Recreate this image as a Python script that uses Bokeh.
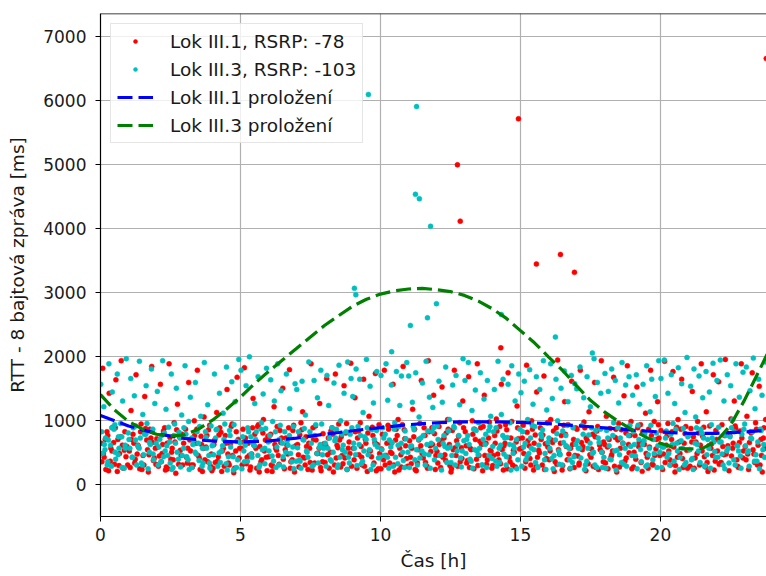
from bokeh.plotting import figure
from bokeh.models import Range1d, Span, Legend, LegendItem, FixedTicker
from bokeh.embed import file_html
from bokeh.resources import INLINE

# ---------------- data ----------------
# Lok III.1 (red) – main readings, 16 per hour
red_t_a = [
 0.02,0.08,0.13,0.19,0.26,0.31,0.37,0.44,0.50,0.55,0.62,0.68,0.74,0.81,0.87,0.94,
 1.03,1.09,1.16,1.22,1.27,1.34,1.40,1.45,1.52,1.58,1.65,1.71,1.76,1.83,1.89,1.96,
 2.01,2.07,2.14,2.20,2.25,2.32,2.38,2.45,2.51,2.56,2.63,2.69,2.75,2.82,2.88,2.93,
 3.04,3.10,3.15,3.22,3.28,3.35,3.41,3.46,3.53,3.59,3.64,3.70,3.77,3.83,3.90,3.96,
 4.02,4.08,4.15,4.21,4.26,4.33,4.39,4.46,4.52,4.57,4.64,4.70,4.76,4.83,4.88,4.95,
 5.03,5.09,5.14,5.21,5.27,5.34,5.40,5.45,5.51,5.58,5.64,5.69,5.76,5.82,5.89,5.95,
 6.01,6.08,6.13,6.20,6.26,6.31,6.38,6.44,6.51,6.57,6.62,6.69,6.75,6.80,6.87,6.93,
 7.04,7.09,7.16,7.22,7.29,7.34,7.41,7.47,7.52,7.59,7.65,7.70,7.77,7.83,7.88,7.95,
 8.02,8.08,8.14,8.21,8.27,8.32,8.39,8.45,8.51,8.58,8.63,8.70,8.76,8.81,8.88,8.94,
 9.03,9.09,9.16,9.22,9.28,9.33,9.40,9.46,9.53,9.59,9.64,9.71,9.77,9.82,9.89,9.95,
 10.02,10.07,10.14,10.20,10.27,10.33,10.38,10.45,10.51,10.56,10.63,10.69,10.74,10.81,10.87,10.93,
 11.04,11.10,11.15,11.22,11.28,11.35,11.41,11.46,11.53,11.59,11.66,11.71,11.77,11.84,11.90,11.96,
 12.02,12.09,12.15,12.20,12.27,12.33,12.40,12.46,12.52,12.57,12.64,12.70,12.76,12.83,12.89,12.94,
 13.03,13.08,13.15,13.21,13.28,13.34,13.39,13.46,13.52,13.58,13.65,13.71,13.77,13.82,13.89,13.95,
 14.01,14.08,14.14,14.19,14.26,14.32,14.39,14.45,14.51,14.56,14.63,14.69,14.75,14.82,14.88,14.93,
 15.04,15.10,15.16,15.22,15.27,15.34,15.40,15.47,15.53,15.58,15.65,15.71,15.78,15.84,15.89,15.96,
 16.03,16.08,16.15,16.21,16.28,16.33,16.40,16.46,16.51,16.58,16.64,16.70,16.77,16.83,16.90,16.95,
 17.02,17.09,17.14,17.21,17.27,17.34,17.39,17.45,17.52,17.58,17.65,17.70,17.76,17.83,17.89,17.96,
 18.01,18.07,18.13,18.20,18.26,18.33,18.39,18.44,18.51,18.57,18.64,18.70,18.77,18.82,18.88,18.95,
 19.04,19.09,19.16,19.22,19.29,19.35,19.40,19.47,19.53,19.58,19.65,19.71,19.78,19.84,19.90,19.95,
 20.02,20.08,20.15,20.21,20.27,20.34,20.40,20.45,20.52,20.58,20.63,20.70,20.76,20.81,20.88,20.94,
 21.03,21.09,21.14,21.21,21.27,21.33,21.40,21.46,21.51,21.57,21.64,21.70,21.76,21.83,21.89,21.96,
 22.01,22.08,22.14,22.20,22.27,22.32,22.39,22.45,22.52,22.58,22.64,22.69,22.76,22.82,22.89,22.95,
 23.03,23.09,23.15,23.22,23.28,23.34,23.40,23.47,23.53,23.59,23.64,23.70,23.76,
]
red_rtt_a = [
 640,1810,420,230,760,1420,560,890,310,1630,700,480,1930,250,820,590,
 520,1150,780,330,1710,610,240,940,450,1370,690,190,860,1840,370,560,
 710,280,1560,480,830,220,640,1880,390,560,960,170,1250,740,450,300,
 860,330,1590,520,270,990,640,1780,410,750,200,1050,580,350,920,470,
 250,690,1120,430,880,200,560,760,1480,330,630,940,180,520,1670,410,
 560,860,1820,320,640,220,470,1340,780,250,930,590,380,1010,690,210,
 430,780,200,1210,560,900,310,650,1500,240,720,470,1790,350,840,190,
 620,270,960,1130,410,740,230,560,1880,880,330,690,480,1260,210,790,
 340,1650,720,500,880,190,1720,610,940,270,450,1540,800,230,660,1890,
 560,1350,250,830,960,420,1640,700,200,1060,520,890,330,1730,620,930,
 240,780,1780,450,920,330,630,1560,190,860,1010,560,270,1840,710,400,
 680,320,1170,860,210,540,950,1620,410,760,280,1930,600,880,1390,230,
 510,900,260,1520,720,370,1010,620,190,840,1780,450,280,960,570,1300,
 820,330,1680,560,990,240,700,1880,450,880,210,1390,640,380,970,520,
 290,760,1020,470,900,1560,220,640,850,1740,350,980,530,270,1220,710,
 560,920,250,1860,680,400,990,220,770,1440,530,880,300,1690,630,960,
 380,1010,650,200,880,1940,470,760,290,1290,590,930,240,1610,700,450,
 860,300,1780,540,970,210,680,1130,420,780,1590,260,900,610,1930,350,
 620,1060,240,870,460,1670,730,190,950,560,320,1380,800,1850,490,980,
 270,760,1520,590,930,200,670,1110,420,860,1780,310,980,550,1290,720,
 840,230,1920,610,950,380,700,1760,190,890,1010,480,1640,260,790,530,
 540,870,1450,250,660,980,300,1880,750,430,1130,200,910,630,1710,360,
 700,1600,330,930,460,1950,800,210,1020,560,1300,870,280,650,1880,410,
 590,1060,230,820,1740,470,960,300,1530,700,190,880,1010,
]
# Lok III.1 – further readings in the dense lower band, 8 per hour
red_t_b = [
 0.05,0.17,0.29,0.41,0.53,0.66,0.78,0.91,
 1.06,1.19,1.31,1.43,1.55,1.68,1.80,1.92,
 2.04,2.17,2.29,2.41,2.54,2.66,2.79,2.91,
 3.07,3.19,3.31,3.44,3.56,3.68,3.80,3.93,
 4.05,4.18,4.30,4.42,4.55,4.67,4.79,4.92,
 5.06,5.18,5.31,5.43,5.55,5.67,5.80,5.92,
 6.04,6.16,6.29,6.41,6.53,6.66,6.78,6.90,
 7.07,7.19,7.31,7.44,7.56,7.68,7.81,7.93,
 8.05,8.17,8.30,8.42,8.54,8.66,8.79,8.91,
 9.06,9.18,9.31,9.43,9.55,9.68,9.80,9.92,
 10.04,10.17,10.29,10.41,10.54,10.66,10.78,10.90,
 11.07,11.19,11.32,11.44,11.56,11.68,11.80,11.93,
 12.05,12.18,12.30,12.42,12.54,12.67,12.79,12.91,
 13.06,13.18,13.30,13.43,13.55,13.67,13.79,13.92,
 14.04,14.16,14.29,14.41,14.53,14.66,14.78,14.90,
 15.07,15.19,15.31,15.43,15.56,15.68,15.80,15.93,
 16.06,16.18,16.30,16.43,16.55,16.67,16.79,16.92,
 17.05,17.18,17.30,17.42,17.54,17.67,17.79,17.92,
 18.04,18.17,18.29,18.41,18.54,18.66,18.78,18.91,
 19.06,19.19,19.31,19.43,19.56,19.68,19.80,19.93,
 20.05,20.17,20.30,20.42,20.54,20.67,20.79,20.91,
 21.06,21.18,21.31,21.43,21.55,21.67,21.80,21.92,
 22.04,22.17,22.29,22.41,22.54,22.67,22.79,22.91,
 23.06,23.18,23.31,23.43,23.56,23.68,
]
red_rtt_b = [
 350,700,210,520,880,290,610,430,
 260,640,470,820,300,540,720,410,
 580,350,880,240,500,660,310,780,
 420,690,300,860,230,560,760,280,
 620,360,810,280,470,900,250,700,
 300,720,450,880,560,190,800,420,
 680,280,530,840,390,610,250,920,
 460,850,300,640,220,910,560,350,
 600,250,780,410,690,320,950,480,
 380,720,590,280,800,430,650,240,
 550,300,860,480,690,220,930,600,
 420,740,330,600,880,250,510,790,
 330,680,460,860,240,570,750,400,
 600,260,780,390,670,900,310,530,
 450,830,320,600,240,720,500,880,
 720,350,600,860,280,490,770,400,
 520,830,310,640,920,380,560,260,
 440,650,880,320,550,740,230,500,
 330,700,520,860,270,640,410,760,
 500,880,340,620,250,760,450,930,
 610,340,520,820,290,660,400,900,
 280,740,480,610,890,340,560,220,
 520,340,760,600,440,910,260,720,
 380,650,540,860,300,720,
]
# Lok III.1 – more lower-band readings, 8 per hour
red_t_c = [
 0.10,0.23,0.35,0.47,0.60,0.72,0.85,0.97,
 1.11,1.24,1.36,1.48,1.61,1.73,1.86,1.98,
 2.10,2.22,2.35,2.48,2.60,2.72,2.85,2.97,
 3.12,3.24,3.36,3.49,3.61,3.73,3.86,3.98,
 4.10,4.23,4.35,4.48,4.60,4.72,4.85,4.97,
 5.11,5.24,5.36,5.48,5.61,5.73,5.85,5.98,
 6.10,6.23,6.35,6.47,6.60,6.72,6.85,6.97,
 7.12,7.24,7.36,7.49,7.61,7.73,7.86,7.98,
 8.11,8.23,8.36,8.48,8.60,8.73,8.85,8.97,
 9.10,9.23,9.35,9.48,9.60,9.73,9.85,9.97,
 10.11,10.23,10.36,10.48,10.60,10.73,10.85,10.97,
 11.12,11.24,11.37,11.49,11.61,11.74,11.86,11.98,
 12.10,12.23,12.35,12.48,12.60,12.72,12.85,12.97,
 13.11,13.24,13.36,13.48,13.61,13.73,13.86,13.98,
 14.10,14.23,14.35,14.47,14.60,14.72,14.85,14.97,
 15.12,15.24,15.37,15.49,15.61,15.74,15.86,15.98,
 16.11,16.24,16.36,16.49,16.61,16.73,16.86,16.98,
 17.10,17.23,17.35,17.48,17.60,17.73,17.85,17.97,
 18.11,18.24,18.36,18.48,18.61,18.73,18.86,18.98,
 19.12,19.24,19.37,19.49,19.61,19.74,19.86,19.98,
 20.11,20.24,20.36,20.48,20.61,20.73,20.85,20.97,
 21.12,21.24,21.36,21.49,21.61,21.73,21.86,21.98,
 22.10,22.23,22.35,22.48,22.60,22.73,22.85,22.97,
 23.12,23.24,23.37,23.49,23.61,23.73,
]
red_rtt_c = [
 480,820,360,650,200,740,530,300,
 700,390,580,230,870,460,650,310,
 440,620,270,730,380,850,530,640,
 560,300,760,450,620,380,850,210,
 340,770,520,640,300,450,820,560,
 660,420,270,610,900,350,520,750,
 300,620,450,720,540,880,380,600,
 770,420,590,340,700,480,260,630,
 460,830,300,570,740,410,560,280,
 820,460,300,640,520,760,210,480,
 380,640,500,300,760,460,850,280,
 560,230,690,480,340,820,620,450,
 620,420,800,290,540,680,350,880,
 370,540,860,290,620,450,720,250,
 640,380,540,930,420,300,660,550,
 480,810,300,640,420,700,230,580,
 690,350,540,220,780,470,620,880,
 330,590,720,460,280,830,540,660,
 580,430,280,690,850,360,620,240,
 390,650,820,480,580,300,700,450,
 470,760,300,580,420,860,640,250,
 660,410,800,520,270,600,450,840,
 310,590,470,760,640,380,830,520,
 470,800,340,610,450,560,
]
# Lok III.1 – outliers
red_t_out = [12.75, 12.85, 14.93, 15.57, 16.43, 16.93, 14.30, 23.78]
red_rtt_out = [4990, 4110, 5710, 3440, 3590, 3310, 2130, 6650]

# Lok III.3 (cyan) – main readings, 16 per hour
cyan_t_a = [
 0.01,0.07,0.12,0.18,0.24,0.30,0.36,0.42,0.48,0.54,0.60,0.66,0.72,0.79,0.85,0.92,
 1.02,1.08,1.14,1.21,1.26,1.33,1.39,1.46,1.51,1.57,1.63,1.70,1.75,1.82,1.88,1.94,
 2.03,2.09,2.16,2.22,2.28,2.34,2.40,2.47,2.53,2.59,2.65,2.71,2.78,2.84,2.90,2.97,
 3.02,3.08,3.15,3.21,3.27,3.33,3.39,3.45,3.52,3.58,3.64,3.71,3.77,3.83,3.89,3.95,
 4.01,4.07,4.13,4.19,4.25,4.32,4.38,4.44,4.50,4.57,4.63,4.69,4.75,4.81,4.87,4.94,
 5.02,5.08,5.14,5.20,5.26,5.32,5.38,5.44,5.51,5.57,5.63,5.69,5.75,5.81,5.87,5.93,
 6.02,6.08,6.15,6.21,6.27,6.33,6.39,6.45,6.52,6.58,6.64,6.70,6.76,6.83,6.89,6.95,
 7.01,7.07,7.13,7.20,7.26,7.32,7.38,7.44,7.50,7.56,7.63,7.69,7.75,7.81,7.87,7.93,
 8.03,8.09,8.15,8.21,8.27,8.34,8.40,8.46,8.52,8.58,8.64,8.70,8.77,8.83,8.89,8.95,
 9.01,9.07,9.13,9.20,9.26,9.32,9.38,9.44,9.50,9.56,9.63,9.69,9.75,9.81,9.87,9.93,
 10.02,10.08,10.14,10.20,10.26,10.32,10.39,10.45,10.51,10.57,10.63,10.69,10.75,10.82,10.88,10.94,
 11.01,11.07,11.14,11.20,11.26,11.32,11.38,11.44,11.50,11.57,11.63,11.69,11.75,11.81,11.87,11.93,
 12.03,12.09,12.15,12.21,12.27,12.33,12.40,12.46,12.52,12.58,12.64,12.70,12.76,12.83,12.89,12.95,
 13.02,13.08,13.14,13.20,13.27,13.33,13.39,13.45,13.51,13.57,13.64,13.70,13.76,13.82,13.88,13.94,
 14.01,14.07,14.13,14.20,14.26,14.32,14.38,14.44,14.50,14.56,14.63,14.69,14.75,14.81,14.87,14.94,
 15.02,15.08,15.14,15.20,15.26,15.33,15.39,15.45,15.51,15.57,15.63,15.69,15.76,15.82,15.88,15.94,
 16.02,16.08,16.14,16.20,16.27,16.33,16.39,16.45,16.51,16.57,16.63,16.70,16.76,16.82,16.88,16.94,
 17.01,17.07,17.13,17.20,17.26,17.32,17.38,17.44,17.50,17.57,17.63,17.69,17.75,17.81,17.87,17.93,
 18.02,18.08,18.14,18.20,18.26,18.33,18.39,18.45,18.51,18.57,18.63,18.70,18.76,18.82,18.88,18.94,
 19.01,19.07,19.14,19.20,19.26,19.32,19.38,19.44,19.51,19.57,19.63,19.69,19.75,19.82,19.88,19.94,
 20.02,20.08,20.14,20.21,20.27,20.33,20.39,20.45,20.51,20.58,20.64,20.70,20.76,20.82,20.88,20.95,
 21.01,21.08,21.14,21.20,21.26,21.32,21.38,21.45,21.51,21.57,21.63,21.69,21.75,21.82,21.88,21.94,
 22.02,22.08,22.14,22.20,22.27,22.33,22.39,22.45,22.51,22.58,22.64,22.70,22.76,22.82,22.88,22.95,
 23.01,23.07,23.14,23.20,23.26,23.32,23.38,23.45,23.51,23.57,23.63,23.69,23.75,
]
cyan_rtt_a = [
 1560,480,1210,720,300,1880,610,1440,860,390,1720,560,950,1300,250,1960,
 700,1650,420,1380,910,600,1920,330,1090,780,1540,240,650,1800,470,1260,
 1450,580,350,1930,800,1170,450,660,1720,260,940,1500,390,720,1080,560,
 1850,430,980,1360,260,690,1590,820,370,1060,560,1900,730,1240,330,910,
 610,1720,850,280,1420,520,1110,940,1830,430,760,1600,220,1290,670,1950,
 1780,740,350,1540,880,1990,470,640,1260,820,1680,300,960,1410,560,1810,
 520,1630,980,1300,260,1880,700,1460,430,820,1720,610,1180,350,900,1570,
 1480,820,360,1610,690,1080,500,1910,760,280,1620,930,1350,570,1780,460,
 640,1700,1230,380,880,1580,720,260,1860,990,540,1420,820,1910,330,1650,
 1370,560,1800,900,1640,320,1120,740,1950,460,1530,850,1270,620,1760,410,
 1700,880,450,1880,1310,690,1550,280,960,1760,610,1230,1690,370,830,1900,
 1690,590,1280,850,1740,300,1050,720,1580,470,1920,830,1360,640,1200,380,
 910,1610,450,1280,760,1830,560,1010,340,1550,880,1700,620,1240,270,1960,
 1620,700,1900,390,1150,860,1470,520,960,1740,300,1330,780,1620,450,1060,
 590,1480,880,1920,340,1090,1640,720,430,1560,960,1850,610,1300,240,1720,
 1430,820,1610,380,1010,1790,560,1250,900,1680,270,1480,740,1930,480,1160,
 720,1880,1340,450,1640,990,310,1500,830,1770,600,1290,380,1700,880,1570,
 1490,560,1830,920,1350,300,1680,770,1210,480,1960,840,1590,650,1420,260,
 1730,840,1450,390,1800,960,1620,530,1270,720,1900,310,1550,880,1680,590,
 1390,620,1710,920,1250,350,1560,790,1850,460,1130,1640,700,1370,260,1930,
 1650,580,1940,830,1420,300,1710,950,1260,640,1820,420,1570,870,1120,1980,
 760,1530,400,1800,1050,620,1690,860,1350,280,1760,700,1440,930,1890,510,
 1620,890,1940,470,1300,760,1710,330,1540,1010,820,1880,600,1360,250,1750,
 940,1830,520,1460,710,1970,1180,360,1640,860,1390,620,1910,
]
# Lok III.3 – further readings in the dense lower band, 8 per hour
cyan_t_b = [
 0.04,0.16,0.28,0.39,0.51,0.63,0.76,0.88,
 1.05,1.17,1.29,1.42,1.54,1.66,1.78,1.90,
 2.06,2.18,2.31,2.43,2.55,2.68,2.80,2.92,
 3.05,3.17,3.30,3.42,3.54,3.66,3.79,3.91,
 4.04,4.16,4.28,4.41,4.53,4.65,4.77,4.90,
 5.05,5.17,5.29,5.41,5.54,5.66,5.78,5.90,
 6.05,6.18,6.30,6.42,6.54,6.67,6.79,6.91,
 7.04,7.16,7.28,7.41,7.53,7.65,7.78,7.90,
 8.06,8.18,8.31,8.43,8.55,8.67,8.80,8.92,
 9.04,9.16,9.29,9.41,9.53,9.66,9.78,9.90,
 10.05,10.17,10.30,10.42,10.54,10.66,10.79,10.91,
 11.04,11.17,11.29,11.41,11.53,11.66,11.78,11.90,
 12.06,12.18,12.30,12.43,12.55,12.67,12.80,12.92,
 13.05,13.17,13.29,13.42,13.54,13.67,13.79,13.91,
 14.04,14.16,14.29,14.41,14.53,14.66,14.78,14.91,
 15.05,15.17,15.30,15.42,15.54,15.66,15.79,15.91,
 16.05,16.17,16.30,16.42,16.54,16.67,16.79,16.91,
 17.04,17.16,17.29,17.41,17.54,17.66,17.78,17.90,
 18.05,18.17,18.30,18.42,18.54,18.66,18.79,18.91,
 19.04,19.17,19.29,19.41,19.54,19.66,19.78,19.91,
 20.05,20.18,20.30,20.42,20.55,20.67,20.79,20.91,
 21.05,21.17,21.29,21.42,21.54,21.66,21.79,21.91,
 22.05,22.17,22.30,22.42,22.54,22.67,22.79,22.91,
 23.04,23.17,23.29,23.41,23.54,23.66,
]
cyan_rtt_b = [
 820,540,690,280,930,460,740,610,
 560,880,300,720,460,950,620,380,
 300,760,520,890,230,640,810,450,
 780,230,620,470,900,330,560,250,
 460,860,340,700,220,580,930,380,
 240,610,820,420,700,260,540,870,
 760,360,580,920,270,680,480,240,
 570,250,870,420,640,760,330,940,
 280,720,500,860,420,610,230,780,
 640,290,760,520,880,230,700,580,
 540,780,250,650,420,900,500,710,
 260,900,540,410,760,620,250,880,
 700,220,590,830,450,300,760,520,
 480,620,250,840,560,700,260,900,
 820,280,610,470,730,220,560,380,
 280,640,480,920,340,610,850,230,
 560,240,790,460,650,920,250,430,
 680,410,230,560,880,300,720,500,
 250,600,760,220,460,640,280,920,
 820,240,540,680,300,920,480,600,
 260,720,480,620,860,230,560,340,
 540,230,880,340,720,460,250,660,
 420,660,240,560,880,300,520,780,
 600,280,820,460,240,540,
]
# Lok III.3 – more lower-band readings, 8 per hour
cyan_t_c = [
 0.14,0.26,0.40,0.52,0.64,0.77,0.89,0.99,
 1.13,1.25,1.38,1.50,1.62,1.75,1.87,1.99,
 2.12,2.25,2.37,2.49,2.62,2.74,2.86,2.98,
 3.13,3.26,3.38,3.50,3.63,3.75,3.87,3.99,
 4.11,4.24,4.36,4.49,4.61,4.74,4.86,4.98,
 5.12,5.25,5.37,5.50,5.62,5.74,5.87,5.99,
 6.13,6.25,6.38,6.50,6.62,6.75,6.87,6.99,
 7.11,7.23,7.36,7.48,7.60,7.73,7.85,7.97,
 8.12,8.25,8.37,8.49,8.62,8.74,8.86,8.98,
 9.11,9.24,9.36,9.49,9.61,9.74,9.86,9.98,
 10.12,10.25,10.37,10.49,10.62,10.74,10.86,10.98,
 11.11,11.23,11.36,11.48,11.60,11.73,11.85,11.97,
 12.12,12.24,12.37,12.49,12.62,12.74,12.86,12.98,
 13.12,13.24,13.37,13.49,13.62,13.74,13.87,13.99,
 14.12,14.24,14.37,14.49,14.61,14.74,14.86,14.98,
 15.11,15.24,15.36,15.48,15.61,15.73,15.86,15.98,
 16.12,16.25,16.37,16.49,16.62,16.74,16.86,16.98,
 17.12,17.24,17.37,17.49,17.61,17.73,17.86,17.98,
 18.12,18.24,18.37,18.49,18.61,18.74,18.86,18.98,
 19.11,19.23,19.36,19.48,19.61,19.73,19.86,19.98,
 20.12,20.24,20.37,20.49,20.61,20.74,20.86,20.98,
 21.11,21.24,21.36,21.48,21.60,21.73,21.85,21.97,
 22.12,22.24,22.37,22.49,22.62,22.74,22.86,22.98,
 23.11,23.23,23.36,23.48,23.60,23.72,
]
cyan_rtt_c = [
 620,350,880,500,740,260,560,800,
 420,690,560,300,780,500,860,640,
 700,430,600,330,760,500,270,880,
 380,720,500,640,280,820,450,600,
 720,490,600,320,840,430,260,650,
 520,360,740,600,450,860,320,660,
 440,820,300,640,500,760,580,360,
 380,700,520,820,300,480,620,560,
 560,360,680,300,780,500,420,880,
 460,620,360,700,540,300,840,420,
 720,420,580,860,320,640,260,500,
 600,380,700,520,300,460,820,560,
 450,640,340,580,900,520,410,680,
 760,360,540,460,300,620,840,400,
 360,560,760,300,620,480,700,860,
 580,440,720,540,260,780,380,650,
 400,690,520,300,760,560,340,620,
 560,780,360,640,500,260,860,420,
 720,380,520,880,340,560,760,450,
 440,700,620,280,560,380,800,500,
 580,420,780,360,520,680,300,740,
 380,640,520,800,290,560,720,420,
 660,300,520,740,380,600,440,860,
 500,720,360,660,840,420,
]
# Lok III.3 – outliers
cyan_t_out = [9.57, 11.29, 11.25, 11.39, 11.79, 9.07, 9.12, 12.00, 11.68, 11.07, 14.32, 16.25, 10.40, 17.57]
cyan_rtt_out = [6090, 5900, 4530, 4460, 4030, 3060, 2960, 2820, 2600, 2480, 2650, 2300, 2070, 2050]

# fitted curves
fit1_t = [0, 1, 2, 3, 4, 5, 6, 7, 8, 9, 10, 11, 12, 13, 14, 15, 16, 17, 18, 19, 20, 21, 22, 23, 24]
fit1_rtt = [1075, 910, 790, 715, 675, 660, 675, 720, 780, 835, 885, 930, 960, 975, 975, 965,
            945, 915, 880, 845, 815, 795, 795, 815, 850]
fit3_t = [0, 0.5, 1, 1.5, 2, 2.5, 3, 3.5, 4, 4.5, 5, 5.5, 6, 6.5, 7, 7.5, 8, 8.5, 9, 9.5,
          10, 10.5, 11, 11.5, 12, 12.5, 13, 13.5, 14, 14.5, 15, 15.5, 16, 16.5, 17, 17.5,
          18, 18.5, 19, 19.5, 20, 20.5, 21, 21.5, 22, 22.5, 23, 23.5, 24]
fit3_rtt = [1400, 1160, 980, 860, 780, 750, 770, 860, 1000, 1170, 1360, 1570, 1760, 1940,
            2120, 2300, 2480, 2630, 2780, 2890, 2970, 3020, 3050, 3060, 3040, 3010, 2950,
            2860, 2740, 2590, 2400, 2210, 1990, 1780, 1540, 1310, 1130, 980, 850, 730, 640,
            570, 550, 560, 670, 920, 1310, 1750, 2200]

legend_labels = ["Lok III.1, RSRP: -78", "Lok III.3, RSRP: -103",
                 "Lok III.1 proložení", "Lok III.3 proložení"]
x_ticks = [0, 5, 10, 15, 20]
y_ticks = [0, 1000, 2000, 3000, 4000, 5000, 6000, 7000]

# ---------------- figure ----------------
FONT = "DejaVu Sans"
X_END = 23.79
Y_START, Y_END = -505, 7355

p = figure(width=766, height=576, output_backend="svg", toolbar_location=None,
           x_range=Range1d(0, X_END), y_range=Range1d(Y_START, Y_END),
           min_border_left=100, min_border_right=0, min_border_top=13,
           min_border_bottom=60)
p.outline_line_color = None
p.background_fill_color = "white"
p.border_fill_color = "white"

red_t = red_t_a + red_t_b + red_t_c + red_t_out
red_rtt = red_rtt_a + red_rtt_b + red_rtt_c + red_rtt_out
cyan_t = cyan_t_a + cyan_t_b + cyan_t_c + cyan_t_out
cyan_rtt = cyan_rtt_a + cyan_rtt_b + cyan_rtt_c + cyan_rtt_out

r_red = p.scatter(red_t, red_rtt, size=5, fill_color="#ff0000", line_color="#ff0000",
                  line_width=0.5)
r_cyan = p.scatter(cyan_t, cyan_rtt, size=5, fill_color="#00bfbf", line_color="#00bfbf",
                   line_width=0.5)
r_f1 = p.line(fit1_t, fit1_rtt, line_color="#0000ff", line_width=3.2, line_dash="15 6")
r_f3 = p.line(fit3_t, fit3_rtt, line_color="#008000", line_width=3.2, line_dash="15 6")

# axes
for ax in (p.xaxis[0], p.yaxis[0]):
    ax.axis_line_color = "black"
    ax.axis_line_width = 1.2
    ax.major_tick_line_color = "black"
    ax.major_tick_out = 5
    ax.major_tick_in = 0
    ax.minor_tick_line_color = None
    ax.major_label_text_font = FONT
    ax.major_label_text_font_size = "17px"
    ax.major_label_text_color = "#1a1a1a"
    ax.axis_label_text_font = FONT
    ax.axis_label_text_font_size = "18.5px"
    ax.axis_label_text_font_style = "normal"
    ax.axis_label_text_color = "#1a1a1a"

p.xaxis.ticker = FixedTicker(ticks=x_ticks)
p.yaxis.ticker = FixedTicker(ticks=y_ticks)
p.xaxis.axis_label = "Čas [h]"
p.yaxis.axis_label = "RTT - 8 bajtová zpráva [ms]"
p.xaxis.major_label_standoff = 6
p.yaxis.major_label_standoff = 9
p.xaxis.axis_label_standoff = 6
p.yaxis.axis_label_standoff = 12

p.xgrid.ticker = FixedTicker(ticks=x_ticks)
p.ygrid.ticker = FixedTicker(ticks=y_ticks)
for g in (p.xgrid[0], p.ygrid[0]):
    g.grid_line_color = "#b0b0b0"
    g.grid_line_width = 1.2

# top frame line
p.add_layout(Span(location=Y_END, dimension="width", line_color="black", line_width=1.5))

legend = Legend(items=[
    LegendItem(label=legend_labels[0], renderers=[r_red]),
    LegendItem(label=legend_labels[1], renderers=[r_cyan]),
    LegendItem(label=legend_labels[2], renderers=[r_f1]),
    LegendItem(label=legend_labels[3], renderers=[r_f3]),
], location="top_left")
legend.margin = 10
legend.padding = 6
legend.spacing = 6
legend.glyph_width = 36
legend.glyph_height = 10
legend.label_height = 22
legend.label_standoff = 17
legend.label_text_font = FONT
legend.label_text_font_size = "18.5px"
legend.label_text_color = "#1a1a1a"
legend.border_line_color = "#cccccc"
legend.border_line_width = 1
legend.background_fill_color = "white"
legend.background_fill_alpha = 0.8
p.add_layout(legend, "center")

open("out.html", "w").write(file_html(p, INLINE))
